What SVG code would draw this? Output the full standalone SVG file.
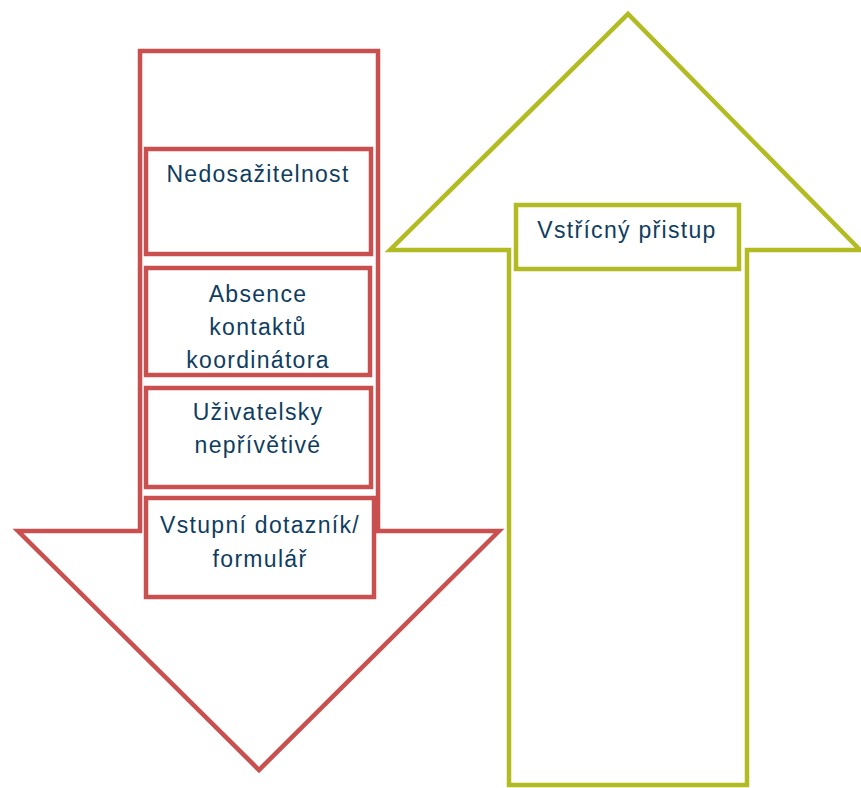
<svg xmlns="http://www.w3.org/2000/svg" width="861" height="788" viewBox="0 0 861 788">
<style>
.red{fill:#fff;stroke:#c9504f;stroke-width:4.5;stroke-linejoin:miter}
.grn{fill:#fff;stroke:#b3bb22;stroke-width:4.5;stroke-linejoin:miter}
.t{font-family:"Liberation Sans",Arial,sans-serif;font-size:23px;fill:#0f3d5f;text-anchor:middle;letter-spacing:1.3px}
</style>
<rect width="861" height="788" fill="#fff"/>
<g id="down-arrow"><polygon class="red" points="140,51 378,51 378,531 499,531 259,770 18,531 140,531"/></g>
<g id="up-arrow"><polygon class="grn" points="509,785 747,785 747,250 860,250 628,14 390,250 509,250"/></g>
<g id="n-nedosazitelnost"><rect class="red" x="146" y="149" width="225" height="105"/><text class="t" x="258" y="182">Nedosažitelnost</text></g>
<g id="n-absence"><rect class="red" x="146" y="268" width="224" height="107"/><text class="t" x="258" y="302">Absence</text><text class="t" x="258" y="335">kontaktů</text><text class="t" x="258" y="368">koordinátora</text></g>
<g id="n-uzivatelsky"><rect class="red" x="146" y="388" width="225" height="99"/><text class="t" x="258" y="420">Uživatelsky</text><text class="t" x="258" y="453">nepřívětivé</text></g>
<g id="n-vstupni"><rect class="red" x="146" y="498" width="228" height="99"/><text class="t" x="260" y="533">Vstupní dotazník/</text><text class="t" x="260" y="567">formulář</text></g>
<g id="n-vstricny"><rect class="grn" x="516" y="205" width="223" height="64"/><text class="t" x="627" y="238">Vstřícný přistup</text></g>
<g id="connectors"></g>
</svg>
